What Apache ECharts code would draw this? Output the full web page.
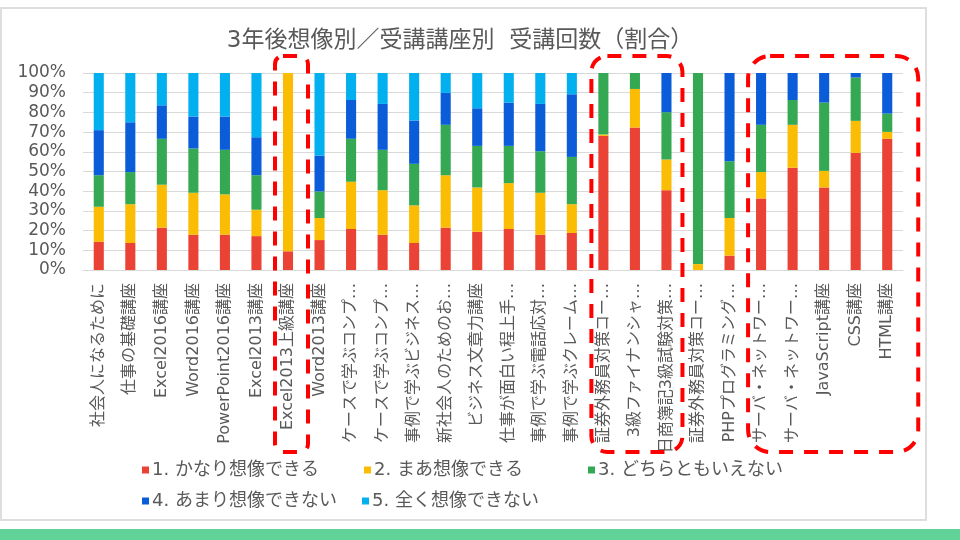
<!DOCTYPE html>
<html>
<head>
<meta charset="utf-8">
<title>3年後想像別／受講講座別 受講回数（割合）</title>
<script src="https://cdn.jsdelivr.net/npm/echarts@6/dist/echarts.min.js"></script>
<style>
  html, body { margin: 0; padding: 0; background: #fff; }
  #chart { width: 960px; height: 540px; }
</style>
</head>
<body>
<div id="chart"></div>
<script>
// categories (course names, as shown truncated on the axis)
const courses = [
  '社会人になるために', '仕事の基礎講座', 'Excel2016講座', 'Word2016講座', 'PowerPoint2016講座',
  'Excel2013講座', 'Excel2013上級講座', 'Word2013講座', 'ケースで学ぶコンプ…', 'ケースで学ぶコンプ…',
  '事例で学ぶビジネス…', '新社会人のためのお…', 'ビジネス文章力講座', '仕事が面白い程上手…', '事例で学ぶ電話応対…',
  '事例で学ぶクレーム…', '証券外務員対策コー…', '3級ファイナンシャ…', '日商簿記3級試験対策…', '証券外務員対策コー…',
  'PHPプログラミング…', 'サーバ・ネットワー…', 'サーバ・ネットワー…', 'JavaScript講座', 'CSS講座', 'HTML講座'
];

const answerNames = ['1. かなり想像できる', '2. まあ想像できる', '3. どちらともいえない', '4. あまり想像できない', '5. 全く想像できない'];
const answerColors = ['#ea4335', '#fbbc04', '#34a853', '#0b5cd8', '#03b0ef'];

// share of answers per course (%)
const canImagineWell = [14.3, 13.7, 21.5, 17.9, 17.9, 17.2, 9.5, 15.2, 20.8, 17.9, 13.7, 21.5, 19.4, 20.8, 17.9, 18.8, 68.1, 72.3, 40.5, 0, 7.3, 36.3, 51.9, 41.9, 59.5, 66.6];
const canImagineSomewhat = [17.8, 19.7, 21.8, 21.3, 20.5, 13.4, 90.5, 11.2, 24.0, 22.6, 19.1, 26.6, 22.5, 23.3, 21.3, 14.6, 0.7, 19.6, 15.6, 3.0, 19.1, 13.4, 21.8, 8.4, 16.2, 3.5];
const neither = [16.0, 16.3, 23.3, 22.5, 22.6, 17.5, 0, 13.5, 21.8, 20.5, 21.1, 25.6, 21.1, 18.9, 21.1, 24.0, 31.2, 8.1, 24.0, 97.0, 28.8, 24.0, 12.6, 34.7, 22.0, 9.3];
const hardlyImagine = [22.9, 25.3, 17.0, 16.2, 16.9, 19.3, 0, 18.2, 19.7, 23.3, 22.0, 16.2, 19.1, 22.0, 24.0, 31.8, 0, 0, 19.9, 0, 44.8, 26.3, 13.7, 15.0, 2.3, 20.6];
const cannotImagine = [29.0, 25.0, 16.4, 22.1, 22.1, 32.6, 0, 41.9, 13.7, 15.7, 24.1, 10.1, 17.9, 15.0, 15.7, 10.8, 0, 0, 0, 0, 0, 0, 0, 0, 0, 0];

const seriesValues = [canImagineWell, canImagineSomewhat, neither, hardlyImagine, cannotImagine];

// highlighted course groups (first index, last index)
const highlightGroups = [[6, 6], [16, 18], [21, 25]];

const font = "'DejaVu Sans', 'Noto Sans CJK JP', sans-serif";
const textGray = '#595959';

const legendPos = [[137, 456], [359, 456], [583, 456], [137, 487], [357, 487]];

const chart = echarts.init(document.getElementById('chart'));

chart.setOption({
  animation: false,
  backgroundColor: '#fff',
  textStyle: { fontFamily: font },
  title: {
    text: '3年後想像別／受講講座別  受講回数（割合）',
    left: 455,
    top: 25,
    textAlign: 'center',
    textStyle: { fontFamily: font, fontSize: 23, fontWeight: 'normal', color: textGray }
  },
  legend: answerNames.map((name, i) => ({
    data: [name],
    left: legendPos[i][0],
    top: legendPos[i][1],
    icon: 'rect',
    itemWidth: 7,
    itemHeight: 7,
    itemGap: 0,
    selectedMode: false,
    textStyle: { fontFamily: font, fontSize: 18, color: textGray, padding: [0, 0, 0, -2] }
  })),
  grid: { left: 83, right: 57, top: 73, bottom: 270 },
  xAxis: {
    type: 'category',
    data: courses,
    axisLine: { lineStyle: { color: '#d9d9d9', width: 1 } },
    axisTick: { show: false },
    axisLabel: { interval: 0, rotate: 90, margin: 13, fontSize: 16, color: textGray, fontFamily: font }
  },
  yAxis: {
    type: 'value',
    min: 0,
    max: 100,
    interval: 10,
    axisLine: { show: false },
    axisTick: { show: false },
    splitLine: { lineStyle: { color: '#d9d9d9', width: 1 } },
    axisLabel: { formatter: '{value}%', fontSize: 17, color: textGray, margin: 17, fontFamily: font }
  },
  series: answerNames.map((name, i) => ({
    name: name,
    type: 'bar',
    stack: 'share',
    barWidth: '32%',
    itemStyle: { color: answerColors[i] },
    data: seriesValues[i]
  }))
});

// frame, bottom band and red dashed highlight boxes
const px = i => chart.convertToPixel({ xAxisIndex: 0 }, i);
const boxPad = [[13, 20, 8], [12, 16, 16], [13, 31, 22]];
const graphics = [
  { type: 'rect', silent: true, shape: { x: 1, y: 8, width: 925, height: 512 },
    style: { fill: 'none', stroke: '#dedede', lineWidth: 2 } },
  { type: 'rect', silent: true, shape: { x: 0, y: 529, width: 960, height: 11 },
    style: { fill: '#61d398' } }
];
highlightGroups.forEach((g, k) => {
  const x0 = px(g[0]) - boxPad[k][0];
  const x1 = px(g[1]) + boxPad[k][1];
  graphics.push({
    type: 'rect',
    silent: true,
    z: 100,
    shape: { x: x0, y: 56, width: x1 - x0, height: 396, r: boxPad[k][2] },
    style: { fill: 'none', stroke: '#ff0000', lineWidth: 4, lineDash: [14, 11] }
  });
});
chart.setOption({ graphic: graphics });
</script>
</body>
</html>
